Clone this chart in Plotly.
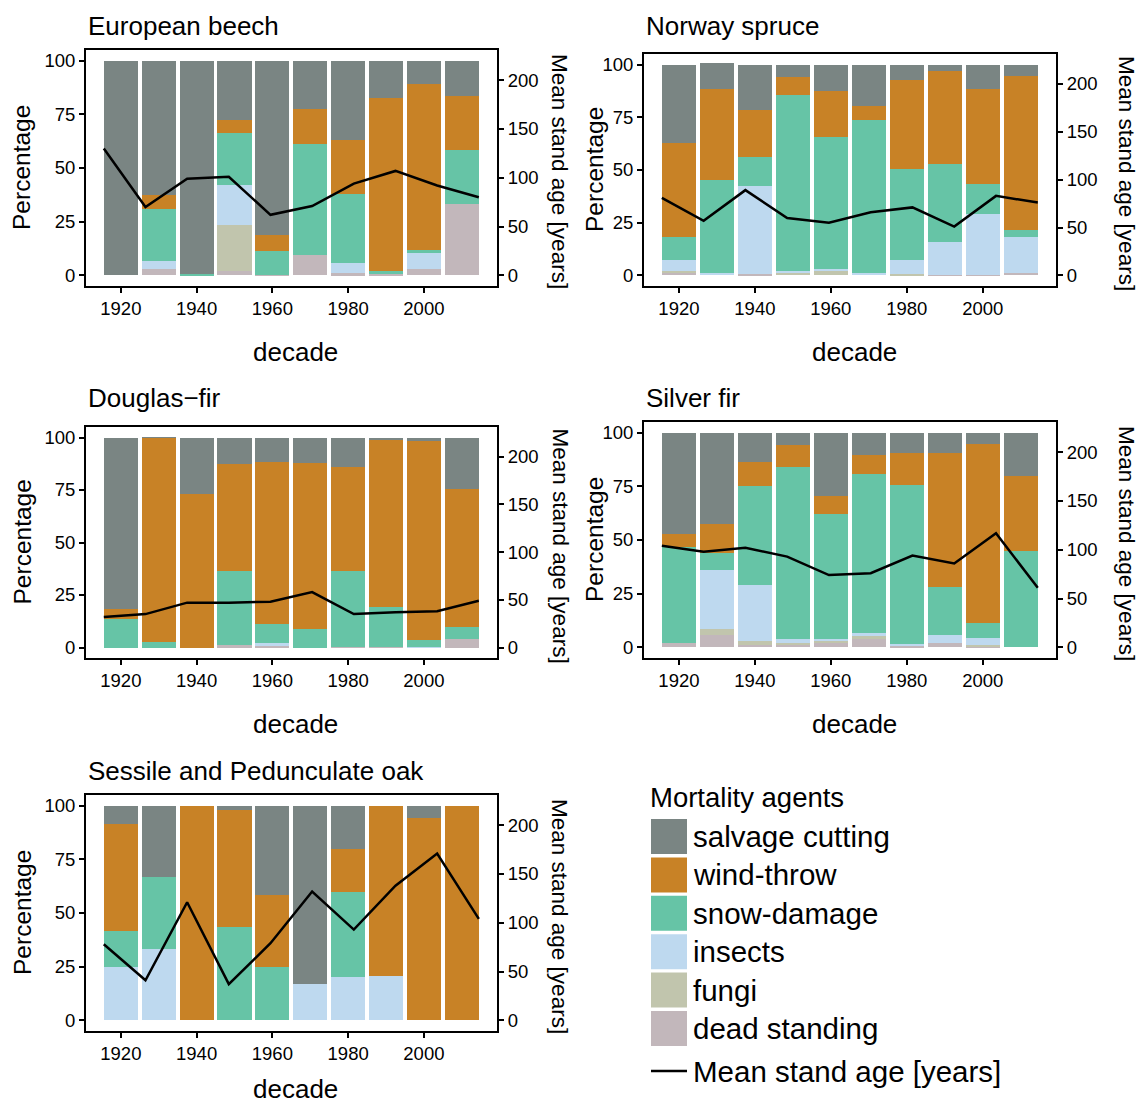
import plotly.graph_objects as go

W, H = 1142, 1107
FONT = "Liberation Sans, Arial, Helvetica, sans-serif"

# ---- data -------------------------------------------------------------
decades = [1920, 1930, 1940, 1950, 1960, 1970, 1980, 1990, 2000, 2010]
# mean stand age is plotted on its own, evenly spaced positions
age_x = [1915.5, 1926.5, 1937.5, 1948.5, 1959.5, 1970.5, 1981.5, 1992.5, 2003.5, 2014.5]

agents = ["salvage cutting", "wind-throw", "snow-damage", "insects", "fungi", "dead standing"]
agent_colors = ["#7a8583", "#c88226", "#66c4a6", "#bed9ef", "#c1c5ad", "#c2b7bb"]

# European beech (% of mortality per decade)
beech_salvage = [100, 62.6, 99.5, 27.4, 81.1, 22.7, 36.9, 17.2, 11.0, 16.5]
beech_wind = [0, 6.5, 0, 6.4, 7.5, 16.2, 25.2, 80.6, 77.1, 25.1]
beech_snow = [0, 24.4, 0.5, 24.2, 11.1, 51.5, 32.0, 1.4, 1.7, 25.0]
beech_insects = [0, 3.4, 0, 18.4, 0, 0, 5.0, 0, 7.4, 0]
beech_fungi = [0, 0, 0, 21.7, 0, 0, 0, 0, 0, 0]
beech_dead = [0, 3.1, 0, 1.9, 0.3, 9.6, 0.9, 0.8, 2.8, 33.4]
beech_age = [130, 70, 99, 101, 62, 71, 94, 107, 92, 80]

# Norway spruce
spruce_salvage = [37.2, 12.2, 21.5, 6.0, 12.6, 19.6, 7.3, 3.2, 11.7, 5.4]
spruce_wind = [44.5, 42.9, 22.3, 8.5, 21.8, 6.6, 42.2, 43.8, 44.8, 73.0]
spruce_snow = [10.9, 44.1, 13.6, 83.3, 62.5, 72.5, 43.1, 37.1, 14.2, 3.3]
spruce_insects = [5.2, 1.3, 41.8, 0.9, 0.9, 1.3, 6.6, 15.6, 29.0, 17.0]
spruce_fungi = [1.1, 0, 0, 1.3, 2.2, 0, 0.8, 0, 0, 0]
spruce_dead = [1.1, 0, 0.8, 0, 0, 0, 0, 0.3, 0.3, 1.3]
spruce_age = [81, 57, 89, 60, 55, 66, 71, 51, 83, 76]

# Douglas-fir
douglas_salvage = [81.8, 0.2, 26.7, 12.5, 11.5, 12.2, 14.1, 0.8, 1.7, 24.5]
douglas_wind = [4.6, 97.3, 73.3, 51.3, 77.4, 79.0, 49.7, 80.1, 94.8, 65.7]
douglas_snow = [13.6, 2.5, 0, 35.0, 8.9, 8.8, 35.8, 18.8, 3.2, 5.7]
douglas_insects = [0, 0, 0, 0, 1.4, 0, 0, 0, 0.3, 0]
douglas_fungi = [0, 0, 0, 0, 0, 0, 0, 0, 0, 0]
douglas_dead = [0, 0, 0, 1.2, 0.8, 0, 0.4, 0.3, 0, 4.1]
douglas_age = [32, 35, 47, 47, 48, 58, 35, 37, 38, 49]

# Silver fir
fir_salvage = [47.1, 42.4, 13.6, 5.9, 29.4, 10.5, 9.3, 9.6, 5.3, 20.1]
fir_wind = [6.2, 13.6, 11.2, 10.2, 8.4, 8.7, 14.9, 62.5, 83.6, 35.0]
fir_snow = [44.5, 7.9, 46.1, 80.2, 58.2, 74.3, 73.8, 22.0, 6.6, 44.9]
fir_insects = [0, 27.4, 26.3, 1.6, 0.9, 1.1, 0.8, 3.7, 3.6, 0]
fir_fungi = [0, 2.8, 1.6, 0.9, 0.9, 1.4, 0, 0, 0.6, 0]
fir_dead = [2.2, 5.9, 1.2, 1.2, 2.2, 4.0, 0.9, 2.2, 0.3, 0]
fir_age = [104, 98, 102, 93, 74, 76, 94, 86, 117, 61]

# Sessile and Pedunculate oak
oak_salvage = [8.3, 33.4, 0, 1.9, 41.7, 83.3, 20.0, 0, 5.9, 0]
oak_wind = [50.0, 0, 100, 54.6, 33.3, 0, 20.0, 79.2, 94.1, 100]
oak_snow = [16.7, 33.3, 0, 43.5, 25.0, 0, 40.0, 0, 0, 0]
oak_insects = [25.0, 33.3, 0, 0, 0, 16.7, 20.0, 20.8, 0, 0]
oak_fungi = [0, 0, 0, 0, 0, 0, 0, 0, 0, 0]
oak_dead = [0, 0, 0, 0, 0, 0, 0, 0, 0, 0]
oak_age = [78, 41, 121, 37, 79, 132, 93, 138, 171, 104]

species = [
    ("European beech", [beech_salvage, beech_wind, beech_snow, beech_insects, beech_fungi, beech_dead], beech_age),
    ("Norway spruce", [spruce_salvage, spruce_wind, spruce_snow, spruce_insects, spruce_fungi, spruce_dead], spruce_age),
    ("Douglas\u2212fir", [douglas_salvage, douglas_wind, douglas_snow, douglas_insects, douglas_fungi, douglas_dead], douglas_age),
    ("Silver fir", [fir_salvage, fir_wind, fir_snow, fir_insects, fir_fungi, fir_dead], fir_age),
    ("Sessile and Pedunculate oak", [oak_salvage, oak_wind, oak_snow, oak_insects, oak_fungi, oak_dead], oak_age),
]

# panel frames in pixels: left, right, top, bottom, title row y, left-title offset, right-title offset
frames = [
    (86, 497, 50, 286, 26, 64, 63),
    (644, 1056, 54, 286, 26, 50, 71),
    (86, 497, 427, 658, 398, 64, 63),
    (644, 1056, 422, 658, 398, 50, 71),
    (86, 497, 795, 1031, 771, 64, 63),
]

AGE_FACTOR = 2.2  # secondary axis: years = percentage * 2.2
Y_RANGE = [-5, 105]
X_RANGE = [1910.8, 2019.3]


def fx(px):
    return px / W


def fy(py):
    return 1 - py / H


fig = go.Figure()
layout = {}
annotations = []
shapes = []

for k, (name, shares, age) in enumerate(species, start=1):
    xa = "x" if k == 1 else f"x{k}"
    ya = "y" if k == 1 else f"y{2 * k - 1}"
    ya2 = f"y{2 * k}"
    # stack from the bottom: dead standing first, salvage cutting on top
    for i in reversed(range(len(agents))):
        fig.add_trace(go.Bar(
            x=decades, y=shares[i], width=9, name=agents[i],
            marker=dict(color=agent_colors[i], line=dict(width=0)),
            xaxis=xa, yaxis=ya, showlegend=False,
        ))
    fig.add_trace(go.Scatter(
        x=age_x, y=age, mode="lines", name="Mean stand age [years]",
        line=dict(color="black", width=2.5),
        xaxis=xa, yaxis=ya2, showlegend=False,
    ))

    left, right, top, bottom, title_y, lt_off, rt_off = frames[k - 1]
    xkey = "xaxis" if k == 1 else f"xaxis{k}"
    ykey = "yaxis" if k == 1 else f"yaxis{2 * k - 1}"
    y2key = f"yaxis{2 * k}"
    axis_font = dict(family=FONT, size=18.5, color="black")
    layout[xkey] = dict(
        domain=[fx(left), fx(right)], range=X_RANGE, anchor=ya,
        tickvals=[1920, 1940, 1960, 1980, 2000], ticks="outside",
        ticklen=5, tickwidth=2, tickcolor="black", tickfont=axis_font,
        showline=True, mirror=True, linecolor="black", linewidth=2,
        showgrid=False, zeroline=False,
    )
    layout[ykey] = dict(
        domain=[fy(bottom), fy(top)], range=Y_RANGE, anchor=xa,
        tickvals=[0, 25, 50, 75, 100], ticks="outside",
        ticklen=5, tickwidth=2, tickcolor="black", tickfont=axis_font,
        showline=True, mirror=True, linecolor="black", linewidth=2,
        showgrid=False, zeroline=False,
    )
    layout[y2key] = dict(
        overlaying=ya, side="right", anchor=xa,
        range=[Y_RANGE[0] * AGE_FACTOR, Y_RANGE[1] * AGE_FACTOR],
        tickvals=[0, 50, 100, 150, 200], ticks="outside",
        ticklen=6, tickwidth=2, tickcolor="black", tickfont=axis_font,
        showline=False, showgrid=False, zeroline=False,
    )

    mid_y = (top + bottom) / 2
    mid_x = (left + right) / 2
    annotations += [
        dict(text=name, x=fx(left), y=fy(title_y), xref="paper", yref="paper",
             xanchor="left", yanchor="middle", showarrow=False,
             font=dict(family=FONT, size=26, color="black")),
        dict(text="Percentage", x=fx(left - lt_off), y=fy(mid_y), xref="paper", yref="paper",
             textangle=-90, xanchor="center", yanchor="middle", showarrow=False,
             font=dict(family=FONT, size=24.5, color="black")),
        dict(text="Mean stand age [years]", x=fx(right + rt_off), y=fy(mid_y + 3),
             xref="paper", yref="paper", textangle=90, xanchor="center",
             yanchor="middle", showarrow=False,
             font=dict(family=FONT, size=22.5, color="black")),
        dict(text="decade", x=fx(mid_x + 4), y=fy(min(bottom + 66, 1089)), xref="paper",
             yref="paper", xanchor="center", yanchor="middle", showarrow=False,
             font=dict(family=FONT, size=26, color="black")),
    ]

# legend drawn as keys and labels
LEG_X0, LEG_X1 = 651, 687
annotations.append(dict(text="Mortality agents", x=fx(648), y=fy(797), xref="paper",
                        yref="paper", xanchor="left", yanchor="middle", showarrow=False,
                        font=dict(family=FONT, size=27.5, color="black")))
key_top = 819
for i, (lab, col) in enumerate(zip(agents, agent_colors)):
    t = key_top + i * 38.4
    shapes.append(dict(type="rect", xref="paper", yref="paper",
                       x0=fx(LEG_X0), x1=fx(LEG_X1), y0=fy(t + 35), y1=fy(t),
                       fillcolor=col, line=dict(width=0)))
    annotations.append(dict(text=lab, x=fx(691), y=fy(t + 17.5), xref="paper",
                            yref="paper", xanchor="left", yanchor="middle",
                            showarrow=False, font=dict(family=FONT, size=29.5, color="black")))
line_y = 1071
shapes.append(dict(type="line", xref="paper", yref="paper",
                   x0=fx(LEG_X0), x1=fx(LEG_X1), y0=fy(line_y), y1=fy(line_y),
                   line=dict(color="black", width=2.5)))
annotations.append(dict(text="Mean stand age [years]", x=fx(691), y=fy(line_y),
                        xref="paper", yref="paper", xanchor="left", yanchor="middle",
                        showarrow=False, font=dict(family=FONT, size=29.5, color="black")))

fig.update_layout(
    width=W, height=H, margin=dict(l=0, r=0, t=0, b=0),
    paper_bgcolor="white", plot_bgcolor="white",
    barmode="stack", bargap=0, showlegend=False,
    font=dict(family=FONT, color="black"),
    annotations=annotations, shapes=shapes,
    **layout,
)

fig.write_html("out.html")
